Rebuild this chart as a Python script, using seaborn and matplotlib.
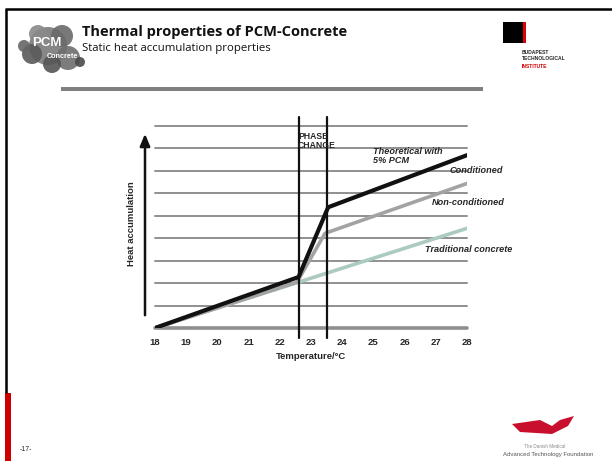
import numpy as np
import pandas as pd
import seaborn as sns
import matplotlib.pyplot as plt
from matplotlib.patches import Rectangle, Circle, Polygon

# -------------------------------
# Data
# -------------------------------
temp_ticks = [18, 19, 20, 21, 22, 23, 24, 25, 26, 27, 28]

trad_x = [18, 28]
trad_y = [0, 4.44]

noncond_x = [18, 22.55, 23.45, 28]
noncond_y = [0, 2.04, 4.22, 6.44]

cond_x = [18, 22.6, 23.55, 28]
cond_y = [0, 2.27, 5.38, 7.7]

phase_start = 22.6
phase_end = 23.5

grid_levels = [1, 2, 3, 4, 5, 6, 7, 8, 9]

sns.set_theme(style="white")
plt.rcParams['font.family'] = ['Liberation Sans', 'DejaVu Sans']

W, H = 612, 461
fig = plt.figure(figsize=(W / 100, H / 100), dpi=100)

# overlay in pixel coordinates for slide decorations
deco = fig.add_axes([0, 0, 1, 1], zorder=0)
deco.set_xlim(0, W)
deco.set_ylim(H, 0)
deco.axis("off")

# frame
deco.plot([5, W], [9.5, 9.5], color="black", lw=1.8, solid_capstyle="butt")
deco.plot([5.5, 5.5], [9, 393], color="black", lw=1.8, solid_capstyle="butt")
deco.add_patch(Rectangle((4.5, 393), 6, 70, color="#cc0000", lw=0))
deco.add_patch(Rectangle((61, 87.5), 422, 3.5, color="#808080", lw=0))

# PCM logo (blobs)
for cx, cy, r, c in [(48, 46, 19, "#7a7a7a"), (32, 54, 10, "#5a5a5a"), (62, 36, 11, "#6a6a6a"),
                     (68, 58, 12, "#6e6e6e"), (38, 34, 9, "#8a8a8a"), (52, 64, 9, "#555555"),
                     (80, 62, 5, "#4a4a4a"), (24, 46, 6, "#666666")]:
    deco.add_patch(Circle((cx, cy), r, color=c, lw=0, alpha=0.9))
deco.text(47, 43, "PCM", color="white", fontsize=9.5, fontweight="bold", ha="center", va="center")
deco.text(62, 56, "Concrete", color="white", fontsize=5.2, fontweight="bold", ha="center", va="center")

# title
deco.text(82, 32, "Thermal properties of PCM-Concrete", fontsize=10.5, fontweight="bold",
          family="Open Sans", ha="left", va="center", color="#111111")
deco.text(82, 49, "Static heat accumulation properties", fontsize=8.2,
          family="Open Sans", ha="left", va="center", color="#111111")

# institute logo
deco.add_patch(Rectangle((503, 22), 20, 21, color="black", lw=0))
deco.add_patch(Rectangle((523, 22), 3, 21, color="#e00000", lw=0))
deco.text(522, 52, "BUDAPEST", fontsize=3.6, fontweight="bold", ha="left", va="center")
deco.text(522, 59, "TECHNOLOGICAL", fontsize=3.6, fontweight="bold", ha="left", va="center")
deco.text(522, 66, "INSTITUTE", fontsize=3.6, fontweight="bold", ha="left", va="center", color="#d00000")

# foundation logo
deco.add_patch(Polygon([[512, 424], [540, 420], [552, 426], [560, 420], [574, 416],
                        [568, 426], [552, 434], [520, 432]], color="#c8102e", lw=0))
deco.text(545, 446, "The Danish Medical", fontsize=3.3, ha="center", va="center", color="#888888")
deco.text(548, 454, "Advanced Technology Foundation", fontsize=4.3, ha="center", va="center",
          color="#555555")
deco.text(20, 449, "-17-", fontsize=5, ha="left", va="center")

# heat accumulation arrow + label
deco.annotate("", xy=(145, 131), xytext=(145, 318),
              arrowprops=dict(arrowstyle="-|>,head_width=0.25,head_length=0.6",
                              color="#111111", lw=1.8))
deco.text(131, 224, "Heat accumulation", rotation=90, fontsize=6.8, fontweight="bold",
          ha="center", va="center")

# -------------------------------
# Chart
# -------------------------------
left, right, bottom_px, top_px = 155, 467, 328, 126
ax = fig.add_axes([left / W, 1 - bottom_px / H, (right - left) / W, (bottom_px - top_px) / H],
                  zorder=2)
ax.patch.set_alpha(0)
ax.set_xlim(18, 28)
ax.set_ylim(0, 9)

for g in grid_levels:
    ax.axhline(g, color="#8f8f8f", lw=1.4, zorder=1, clip_on=False)
ax.axhline(0, color="#8f8f8f", lw=2.6, zorder=1, clip_on=False)

sns.lineplot(x=trad_x, y=trad_y, ax=ax, color="#abcac2", lw=2.6, zorder=3)
sns.lineplot(x=noncond_x, y=noncond_y, ax=ax, color="#a3a3a3", lw=2.6, zorder=4)
sns.lineplot(x=cond_x, y=cond_y, ax=ax, color="#111111", lw=3.0, zorder=5)

for xv in [phase_start, phase_end]:
    ax.axvline(xv, ymin=-0.05, ymax=1.045, color="#111111", lw=1.6, clip_on=False, zorder=6)

ax.text(22.58, 8.33, "PHASE\nCHANGE", fontsize=6.2, fontweight="bold", ha="left", va="center",
        linespacing=1.0, zorder=7)
ax.text(25.0, 7.66, "Theoretical with\n5% PCM", fontsize=6.6, fontweight="bold", style="italic",
        ha="left", va="center", linespacing=1.05, zorder=7)
ax.text(27.45, 7.02, "Conditioned", fontsize=6.6, fontweight="bold", style="italic",
        ha="left", va="center", clip_on=False, zorder=7)
ax.text(26.88, 5.57, "Non-conditioned", fontsize=6.6, fontweight="bold", style="italic",
        ha="left", va="center", clip_on=False, zorder=7)
ax.text(26.65, 3.48, "Traditional concrete", fontsize=6.6, fontweight="bold", style="italic",
        ha="left", va="center", clip_on=False, zorder=7)

ax.set_xticks(temp_ticks)
ax.set_xticklabels([str(t) for t in temp_ticks], fontsize=6.8, fontweight="bold")
ax.set_yticks([])
ax.tick_params(axis="x", length=0, pad=7)
ax.set_xlabel("Temperature/°C", fontsize=6.8, fontweight="bold", labelpad=4)
ax.set_ylabel("")
sns.despine(ax=ax, left=True, bottom=True)

fig.savefig("out.png", dpi=100)
